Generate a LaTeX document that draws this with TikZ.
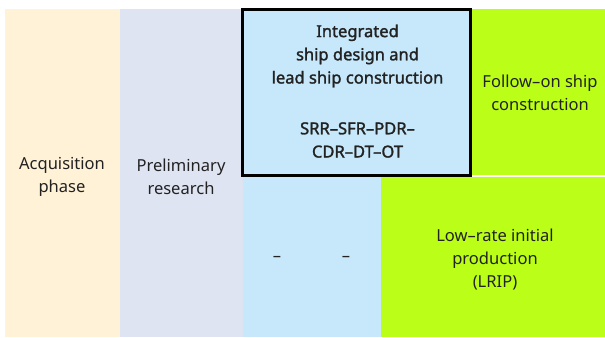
\documentclass[tikz,border=0pt]{standalone}
\usepackage{fontspec}
\setmainfont{Noto Sans}
\newfontfamily\medfont[FakeBold=1.6]{Noto Sans}
\definecolor{acqyellow}{HTML}{FFF2D6}
\definecolor{prelimblue}{HTML}{DFE4F3}
\definecolor{shipblue}{HTML}{C6E8FA}
\definecolor{limegreen}{HTML}{BBFF19}
\definecolor{textgray}{HTML}{222222}
\begin{document}
\begin{tikzpicture}[x=0.75pt,y=-0.75pt,
  lbl/.style={align=center, inner sep=0pt, text=textgray,
    font=\fontsize{12.4}{17.4}\selectfont},
  boldlbl/.style={lbl, font=\fontsize{12.4}{17.4}\selectfont\medfont}]
\useasboundingbox (0,0) rectangle (605,338);
% phase columns
\fill[acqyellow] (5,9) rectangle (120,337);
\fill[prelimblue] (120,9) rectangle (243,337);
\fill[shipblue] (243,9) rectangle (381,337);
\fill[shipblue] (243,9) rectangle (471,175);
\fill[limegreen] (471,9) rectangle (605,174.7);
\fill[limegreen] (381,177.3) rectangle (605,337);
% outlined lead-ship block
\draw[line width=2.25pt] (242.5,10) rectangle (470.8,175);
% labels
\node[lbl] (acq) at (62,176.5) {Acquisition\\phase};
\node[lbl] (pre) at (181,176.5) {Preliminary\\research};
\node[boldlbl] (lead) at (357.5,56) {Integrated\\ship design and\\lead ship construction};
\node[boldlbl] (rev) at (357.5,140) {SRR–SFR–PDR–\\CDR–DT–OT};
\node[lbl] (follow) at (540,93) {Follow–on ship\\construction};
\node[lbl] (dasha) at (277,259) {–};
\node[lbl] (dashb) at (346,259) {–};
\node[lbl] (lrip) at (495,259.5) {Low–rate initial\\production\\(LRIP)};
\end{tikzpicture}
\end{document}
